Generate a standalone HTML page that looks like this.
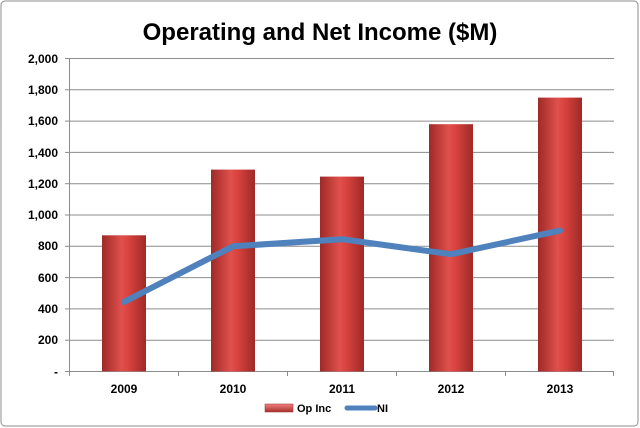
<!DOCTYPE html>
<html><head><style>
body{margin:0;background:#fff;}
svg{display:block;font-family:"Liberation Sans",sans-serif;}
</style></head><body>
<svg width="640" height="428" viewBox="0 0 640 428">
<defs>
<linearGradient id="bg" x1="0" x2="1" y1="0" y2="0">
<stop offset="0" stop-color="#9e2a27"/>
<stop offset="0.45" stop-color="#e0504c"/>
<stop offset="0.6" stop-color="#d9433f"/>
<stop offset="1" stop-color="#9e2a27"/>
</linearGradient>
<linearGradient id="lg" x1="0" x2="0" y1="0" y2="1">
<stop offset="0" stop-color="#f08080"/><stop offset="1" stop-color="#a8302c"/>
</linearGradient>
</defs>
<rect x="1" y="1" width="637" height="425" rx="4" fill="#fff" stroke="#8c8c8c" stroke-width="1"/>
<text x="320" y="40" text-anchor="middle" font-size="24" font-weight="bold" fill="#000">Operating and Net Income ($M)</text>
<g stroke="#8c8c8c" stroke-width="1">
<line x1="69" y1="58.5" x2="614" y2="58.5"/>
<line x1="69" y1="89.8" x2="614" y2="89.8"/>
<line x1="69" y1="121.1" x2="614" y2="121.1"/>
<line x1="69" y1="152.4" x2="614" y2="152.4"/>
<line x1="69" y1="183.7" x2="614" y2="183.7"/>
<line x1="69" y1="215" x2="614" y2="215"/>
<line x1="69" y1="246.3" x2="614" y2="246.3"/>
<line x1="69" y1="277.6" x2="614" y2="277.6"/>
<line x1="69" y1="308.9" x2="614" y2="308.9"/>
<line x1="69" y1="340.2" x2="614" y2="340.2"/>
<line x1="69" y1="371.5" x2="614" y2="371.5"/>
<line x1="69.5" y1="58" x2="69.5" y2="372"/>
<line x1="65" y1="58.5" x2="69" y2="58.5"/><line x1="65" y1="89.8" x2="69" y2="89.8"/><line x1="65" y1="121.1" x2="69" y2="121.1"/><line x1="65" y1="152.4" x2="69" y2="152.4"/><line x1="65" y1="183.7" x2="69" y2="183.7"/><line x1="65" y1="215" x2="69" y2="215"/><line x1="65" y1="246.3" x2="69" y2="246.3"/><line x1="65" y1="277.6" x2="69" y2="277.6"/><line x1="65" y1="308.9" x2="69" y2="308.9"/><line x1="65" y1="340.2" x2="69" y2="340.2"/><line x1="65" y1="371.5" x2="69" y2="371.5"/>
<line x1="69.5" y1="371" x2="69.5" y2="376"/><line x1="178.5" y1="371" x2="178.5" y2="376"/><line x1="287.5" y1="371" x2="287.5" y2="376"/><line x1="396.5" y1="371" x2="396.5" y2="376"/><line x1="505.5" y1="371" x2="505.5" y2="376"/><line x1="613.5" y1="371" x2="613.5" y2="376"/>
</g>
<g font-size="12" font-weight="bold" fill="#000" text-anchor="end">
<text x="58" y="63">2,000</text><text x="58" y="94">1,800</text><text x="58" y="125">1,600</text><text x="58" y="157">1,400</text><text x="58" y="188">1,200</text><text x="58" y="219">1,000</text><text x="58" y="250">800</text><text x="58" y="282">600</text><text x="58" y="313">400</text><text x="58" y="344">200</text><text x="58" y="376">-</text>
</g>
<g fill="url(#bg)">
<rect x="102" y="235.3" width="44" height="136"/>
<rect x="211" y="169.6" width="44" height="201.9"/>
<rect x="320" y="176.6" width="44" height="194.9"/>
<rect x="429" y="124.2" width="44" height="247.3"/>
<rect x="538" y="97.6" width="44" height="273.9"/>
</g>
<polyline points="124,301.9 233,246.3 342,239.2 451,254.2 560,230.6" fill="none" stroke="#4f81bd" stroke-width="6" stroke-linejoin="round" stroke-linecap="round"/>
<g font-size="12" font-weight="bold" fill="#000" text-anchor="middle">
<text x="124" y="393">2009</text><text x="233" y="393">2010</text><text x="342" y="393">2011</text><text x="451" y="393">2012</text><text x="560" y="393">2013</text>
</g>
<rect x="265" y="404" width="28" height="8" fill="url(#lg)" stroke="#9e2a27" stroke-width="0.5"/>
<text x="297" y="412" font-size="11" font-weight="bold">Op Inc</text>
<line x1="347" y1="408" x2="375" y2="408" stroke="#4f81bd" stroke-width="5" stroke-linecap="round"/>
<text x="377" y="412" font-size="11" font-weight="bold">NI</text>
</svg>
</body></html>
